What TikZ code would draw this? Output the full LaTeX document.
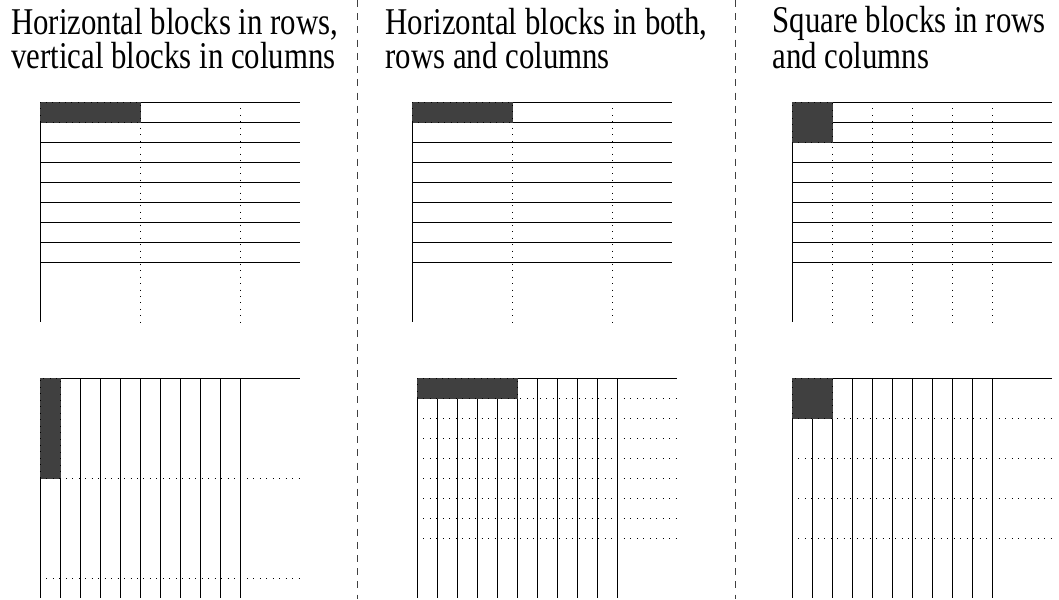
\documentclass[tikz,border=0pt]{standalone}
\usepackage{fontspec}
\setmainfont{Liberation Serif}
\newfontfamily\titlefont[FakeStretch=0.815]{Liberation Serif}
\definecolor{blockgray}{HTML}{404040}

\begin{document}
\begin{tikzpicture}[x=0.5cm, y=-0.5cm,
    solidline/.style={line width=0.7pt},
    dotline/.style={line width=0.7pt, dash pattern=on 0.7pt off 3.9pt},
    sepline/.style={line width=0.6pt, black!75, dash pattern=on 5pt off 4.4pt},
    blockcell/.style={anchor=north west, inner sep=0pt, outer sep=0pt, fill=blockgray, draw=black, dotline, preaction={draw=blockgray, solid}},
    title/.style={anchor=base west, align=left, inner sep=0pt, font=\titlefont\fontsize{26.9}{19}\selectfont}]
    \useasboundingbox (0,0) rectangle (52.95,29.95);

    % Draw separators
    \draw[sepline] (17.85,0) -- (17.85,29.95);
    \draw[sepline] (36.75,0) -- (36.75,29.95);

    % Draw titles (base is the last line)
    \node[title] (t1) at (0.55,3.42) {Horizontal blocks in rows,\\vertical blocks in columns};
    \node[title] (t2) at (19.27,3.42) {Horizontal blocks in both,\\rows and columns};
    \node[title] (t3) at (38.62,3.42) {Square blocks in rows\\and columns};

    % Rows, horizontal blocks (left)
    \begin{scope}[shift={(2,5.1)}]
        \foreach \y in {0,...,8} \draw[solidline] (0,\y) -- (13,\y);
        \draw[solidline] (0,0) -- (0,11);
        \foreach \x in {5,10} \draw[dotline] (\x,0) -- (\x,11);
        \node[blockcell, minimum width=2.5cm, minimum height=0.5cm] (b1) at (0,0) {};
    \end{scope}

    % Columns, vertical blocks (left)
    \begin{scope}[shift={(2,18.9)}]
        \draw[solidline] (0,0) -- (13,0);
        \foreach \x in {0,...,10} \draw[solidline] (\x,0) -- (\x,11);
        \foreach \y in {5,10} \draw[dotline] (0,\y) -- (13,\y);
        \node[blockcell, minimum width=0.5cm, minimum height=2.5cm] (b2) at (0,0) {};
    \end{scope}

    % Rows, horizontal blocks (middle)
    \begin{scope}[shift={(20.6,5.1)}]
        \foreach \y in {0,...,8} \draw[solidline] (0,\y) -- (13,\y);
        \draw[solidline] (0,0) -- (0,11);
        \foreach \x in {5,10} \draw[dotline] (\x,0) -- (\x,11);
        \node[blockcell, minimum width=2.5cm, minimum height=0.5cm] (b3) at (0,0) {};
    \end{scope}

    % Columns, horizontal blocks (middle)
    \begin{scope}[shift={(20.85,18.9)}]
        \draw[solidline] (0,0) -- (13,0);
        \foreach \x in {0,...,10} \draw[solidline] (\x,0) -- (\x,11);
        \foreach \y in {1,...,8} \draw[dotline] (0,\y) -- (13,\y);
        \node[blockcell, minimum width=2.5cm, minimum height=0.5cm] (b4) at (0,0) {};
    \end{scope}

    % Rows, square blocks (right)
    \begin{scope}[shift={(39.6,5.1)}]
        \foreach \y in {0,...,8} \draw[solidline] (0,\y) -- (13,\y);
        \draw[solidline] (0,0) -- (0,11);
        \foreach \x in {2,4,...,10} \draw[dotline] (\x,0) -- (\x,11);
        \node[blockcell, minimum width=1cm, minimum height=1cm] (b5) at (0,0) {};
    \end{scope}

    % Columns, square blocks (right)
    \begin{scope}[shift={(39.6,18.9)}]
        \draw[solidline] (0,0) -- (13,0);
        \foreach \x in {0,...,10} \draw[solidline] (\x,0) -- (\x,11);
        \foreach \y in {2,4,...,8} \draw[dotline] (0,\y) -- (13,\y);
        \node[blockcell, minimum width=1cm, minimum height=1cm] (b6) at (0,0) {};
    \end{scope}
\end{tikzpicture}
\end{document}
